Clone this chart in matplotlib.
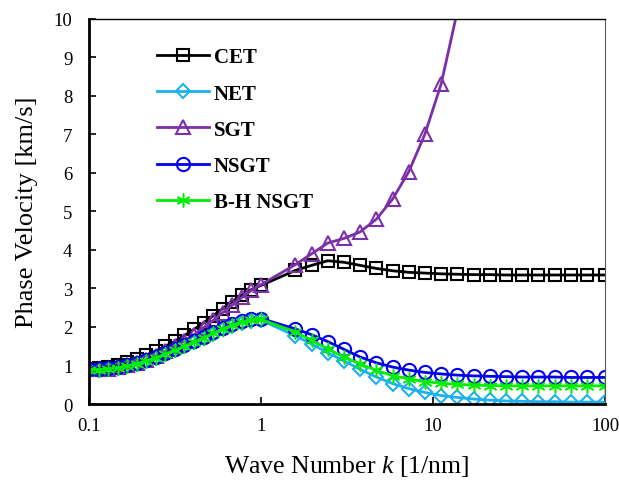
import numpy as np
import matplotlib.pyplot as plt

plt.rcParams["font.family"] = ["Liberation Serif", "DejaVu Serif"]
plt.rcParams["mathtext.fontset"] = "custom"
plt.rcParams["mathtext.it"] = "Liberation Serif:italic"
plt.rcParams["mathtext.rm"] = "Liberation Serif"

# wave numbers [1/nm] of the sampled points
k_low = [0.1, 0.114, 0.129, 0.147, 0.167, 0.19, 0.215, 0.245, 0.278, 0.316,
         0.359, 0.408, 0.464, 0.527, 0.599, 0.681, 0.774, 0.88, 1.0]
k_high = [1.585, 1.968, 2.445, 3.036, 3.771, 4.684, 5.818, 7.227, 8.977, 11.15,
          13.85, 17.2, 21.37, 26.54, 32.97, 40.95, 50.86, 63.17, 78.47, 100.0]
k = k_low + k_high

# phase velocities [km/s]
cet = [0.91, 0.93, 0.97, 1.02, 1.09, 1.17, 1.27, 1.38, 1.5, 1.63,
       1.78, 1.94, 2.11, 2.29, 2.48, 2.66, 2.83, 2.97, 3.08,
       3.47, 3.6, 3.72, 3.68, 3.6, 3.52, 3.46, 3.42, 3.4, 3.38,
       3.37, 3.36, 3.36, 3.35, 3.35, 3.35, 3.35, 3.35, 3.35, 3.35]
net = [0.88, 0.89, 0.91, 0.94, 0.99, 1.05, 1.12, 1.2, 1.3, 1.4,
       1.5, 1.61, 1.72, 1.83, 1.94, 2.03, 2.11, 2.16, 2.18,
       1.77, 1.56, 1.33, 1.12, 0.9, 0.7, 0.53, 0.4, 0.3, 0.22,
       0.17, 0.13, 0.1, 0.08, 0.07, 0.06, 0.06, 0.05, 0.05, 0.05]
sgt = [0.9, 0.9, 0.92, 0.95, 1.0, 1.07, 1.15, 1.25, 1.37, 1.5,
       1.64, 1.8, 1.98, 2.17, 2.37, 2.57, 2.77, 2.95, 3.1,
       3.62, 3.9, 4.18, 4.3, 4.47, 4.8, 5.32, 6.03, 7.01, 8.31,
       10.2]
nsgt = [0.9, 0.91, 0.93, 0.96, 1.01, 1.07, 1.14, 1.22, 1.32, 1.42,
        1.52, 1.63, 1.74, 1.86, 1.97, 2.07, 2.15, 2.2, 2.22,
        1.95, 1.8, 1.62, 1.42, 1.22, 1.07, 0.96, 0.88, 0.82, 0.78,
        0.75, 0.73, 0.72, 0.71, 0.7, 0.7, 0.7, 0.69, 0.69, 0.69]
bh_nsgt = [0.88, 0.89, 0.91, 0.94, 0.99, 1.05, 1.12, 1.2, 1.3, 1.4,
           1.5, 1.61, 1.72, 1.84, 1.95, 2.05, 2.13, 2.18, 2.2,
           1.87, 1.65, 1.43, 1.22, 1.04, 0.87, 0.74, 0.65, 0.58, 0.54,
           0.51, 0.49, 0.48, 0.47, 0.47, 0.47, 0.47, 0.47, 0.47, 0.47]

fig = plt.figure(figsize=(6.19, 4.81), dpi=100)
ax = fig.add_axes([0.1438, 0.158, 0.8336, 0.8006])

lw = 2.0
ax.plot(k, cet, color="black", lw=lw, marker="s", ms=9, mfc="none", mew=1.5, label="CET")
ax.plot(k, net, color="#1CB0EC", lw=lw, marker="D", ms=7, mfc="none", mew=1.5, label="NET")
ax.plot(k[:len(sgt)], sgt, color="#7B2FA8", lw=lw, marker="^", ms=9.5, mfc="none", mew=1.5, label="SGT")
ax.plot(k, nsgt, color="#0000F0", lw=lw, marker="o", ms=9.5, mfc="none", mew=1.5, label="NSGT")
ax.plot(k, bh_nsgt, color="#00EE00", lw=lw, marker=(6, 2, 0), ms=10, mew=1.1, label="B-H NSGT")

ax.set_xscale("log")
ax.set_xlim(0.1, 100)
ax.set_ylim(0, 10)
ax.set_xticks([0.1, 1, 10, 100])
ax.set_xticklabels(["0.1", "1", "10", "100"])
ax.xaxis.set_minor_locator(plt.NullLocator())
ax.set_yticks(range(0, 11))

ax.tick_params(axis="both", direction="in", labelsize=13.5, length=5, width=1.2, color="black")
ax.tick_params(axis="y", pad=12)
ax.tick_params(axis="x", pad=9)

for side in ["left", "bottom"]:
    ax.spines[side].set_linewidth(2.0)
ax.spines["top"].set_linewidth(1.0)
ax.spines["right"].set_linewidth(0.8)
ax.spines["right"].set_color("#555555")

ax.set_xlabel("Wave Number $k$ [1/nm]", fontsize=18.5, labelpad=14)
ax.set_ylabel("Phase Velocity [km/s]", fontsize=19, labelpad=11)

leg = ax.legend(loc="upper left", bbox_to_anchor=(0.095, 0.975), frameon=False,
                prop={"weight": "bold", "size": 15}, handlelength=2.5,
                handletextpad=0.25, labelspacing=0.78)

fig.savefig("out.png", dpi=100)
